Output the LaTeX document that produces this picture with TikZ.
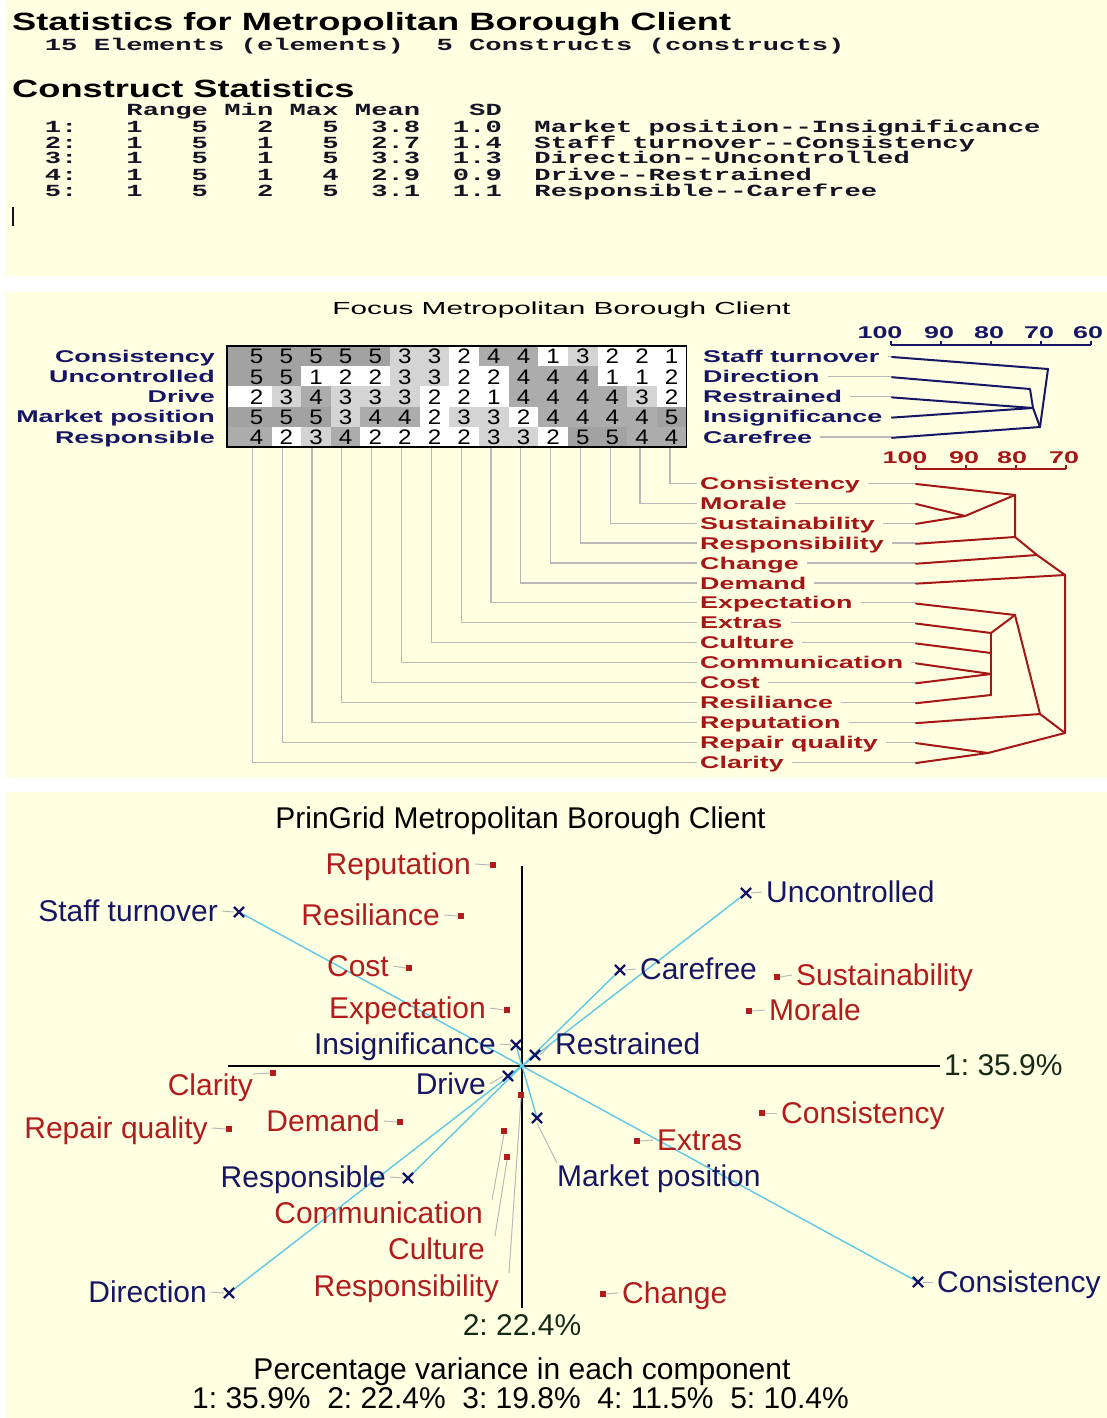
\documentclass[tikz,border=0pt]{standalone}
\usepackage{graphicx}
\usepackage{fontspec}
\setmainfont{Liberation Sans}
\newfontfamily\monofam{Liberation Mono}
\usetikzlibrary{shapes.misc}

\definecolor{paper}{RGB}{255,255,226}
\definecolor{navy}{RGB}{22,22,100}
\definecolor{dred}{RGB}{165,22,22}
\definecolor{pred}{RGB}{178,28,28}
\definecolor{cyanln}{RGB}{95,200,230}
\definecolor{leadgrey}{RGB}{185,185,185}
\definecolor{axtext}{RGB}{22,42,22}
\definecolor{inktext}{RGB}{20,20,36}
\definecolor{cell1}{RGB}{255,255,255}
\definecolor{cell2}{RGB}{255,255,255}
\definecolor{cell3}{RGB}{212,212,212}
\definecolor{cell4}{RGB}{172,172,172}
\definecolor{cell5}{RGB}{162,162,162}

% horizontal stretch factors of the text groups
\newcommand\wideA[1]{\scalebox{1.45}[1]{#1}}
\newcommand\wideM[1]{\scalebox{1.6}[1]{#1}}
\newcommand\wideL[1]{\scalebox{1.58}[1]{#1}}
\newcommand\wideT[1]{\scalebox{1.7}[1]{#1}}
\newcommand\wideD[1]{\scalebox{1.15}[1]{#1}}
\newcommand\dd{-\kern0pt-}

\begin{document}
\begin{tikzpicture}[x=1pt,y=-1pt,
  head/.style={inner sep=0, anchor=base west, text=black,
    font=\fontsize{25}{30}\selectfont\bfseries},
  mono/.style={inner sep=0, anchor=base west, text=inktext,
    font=\monofam\bfseries\fontsize{17}{20}\selectfont\frenchspacing},
  lab2/.style={inner sep=0, text height=12.2pt, text depth=0pt,
    font=\fontsize{17}{20}\selectfont\bfseries},
  ttl2/.style={inner sep=0, text height=12.5pt, text depth=0pt, text=black,
    font=\fontsize{17.5}{20}\selectfont},
  dig/.style={inner sep=0, text height=15pt, text depth=0pt, text=black,
    font=\fontsize{21}{24}\selectfont},
  lab3/.style={inner sep=0, text height=21.5pt, text depth=0pt,
    font=\fontsize{30}{36}\selectfont\frenchspacing},
  gridln/.style={draw=leadgrey, line width=1.2pt},
  cden/.style={draw=navy, line width=2pt, line join=round, line cap=round},
  eden/.style={draw=dred, line width=2pt, line join=round, line cap=round},
  axis/.style={draw=black, line width=1.8pt},
  pole/.style={draw=cyanln, line width=1.4pt},
  leader/.style={draw=leadgrey, line width=1pt},
  xmk/.style={draw=navy, cross out, minimum size=8pt, inner sep=0pt, line width=2.2pt},
  emk/.style={fill=pred, minimum size=5.5pt, inner sep=0pt},
]
\useasboundingbox (0,0) rectangle (1107,1418);
\fill[white] (0,0) rectangle (1107,1418);
\fill[paper] (5,0) rectangle (1107,276);
\fill[paper] (5,292) rectangle (1107,778);
\fill[paper] (5,792) rectangle (1107,1418);

% ---------------- statistics listing ----------------
\node[head] (sthead) at (12,31) {\wideA{Statistics for Metropolitan Borough Client}};
\node[mono] (stcount) at (12,51) {\wideM{~~15 Elements (elements)~~5 Constructs (constructs)}};
\node[head] (cshead) at (12,98) {\wideA{Construct Statistics}};
\node[mono] (cscols) at (12,116) {\wideM{~~~~~~~Range Min Max Mean~~~SD}};
\node[mono] (csr1) at (12,132) {\wideM{~~1:~~~1~~~5~~~2~~~5~~3.8~~1.0~~Market position\dd Insignificance}};
\node[mono] (csr2) at (12,148) {\wideM{~~2:~~~1~~~5~~~1~~~5~~2.7~~1.4~~Staff turnover\dd Consistency}};
\node[mono] (csr3) at (12,164) {\wideM{~~3:~~~1~~~5~~~1~~~5~~3.3~~1.3~~Direction\dd Uncontrolled}};
\node[mono] (csr4) at (12,180) {\wideM{~~4:~~~1~~~5~~~1~~~4~~2.9~~0.9~~Drive\dd Restrained}};
\node[mono] (csr5) at (12,196) {\wideM{~~5:~~~1~~~5~~~2~~~5~~3.1~~1.1~~Responsible\dd Carefree}};
\draw[inktext, line width=1.2pt] (13,207) -- (13,226);

% ---------------- focus grid ----------------
\node[ttl2] (ftitle) at (561.5,308) {\wideT{Focus Metropolitan Borough Client}};

\foreach \vals [count=\r] in {
  {5,5,5,5,5,3,3,2,4,4,1,3,2,2,1},
  {5,5,1,2,2,3,3,2,2,4,4,4,1,1,2},
  {2,3,4,3,3,3,2,2,1,4,4,4,4,3,2},
  {5,5,5,3,4,4,2,3,3,2,4,4,4,4,5},
  {4,2,3,4,2,2,2,2,3,3,2,5,5,4,4}}{
  \foreach \v [count=\c] in \vals {
    \pgfmathsetmacro\xl{\c==1 ? 227 : 241.9+29.64*(\c-1)}
    \fill[cell\v] (\xl,{346+20.2*(\r-1)}) rectangle ({241.9+29.64*\c},{346+20.2*\r});
    \node[dig] (g\r-\c) at ({256.7+29.64*(\c-1)},{356.3+20.2*(\r-1)}) {\wideD{\v}};
  }
}
\draw[black, line width=1.5pt] (227,346) rectangle (686.5,447);

\foreach \t [count=\r] in {Consistency,Uncontrolled,Drive,Market position,Responsible}
  \node[lab2, text=navy, anchor=east] (rl\r) at (215,{356.1+20.2*(\r-1)}) {\wideL{\t}};
\foreach \t [count=\r] in {Staff turnover,Direction,Restrained,Insignificance,Carefree}{
  \node[lab2, text=navy, anchor=west] (rr\r) at (703,{356.1+20.2*(\r-1)}) {\wideL{\t}};
  \coordinate (cr\r) at (892,{357+20.2*(\r-1)});
  \draw[gridln] ([xshift=8pt]rr\r.east) -- (rr\r.east -| cr\r);
}

% construct tree
\coordinate (sx) at (1048,369);
\coordinate (dx) at (1030,389);
\coordinate (m1) at (1033,408);
\coordinate (cx) at (1040,427);
\draw[cden] (cr1) -- (sx) -- (cx);
\draw[cden] (cr2) -- (dx) -- (m1) -- (cx);
\draw[cden] (cr3) -- (m1);
\draw[cden] (cr4) -- (m1);
\draw[cden] (cr5) -- (cx);
\draw[navy, line width=1.6pt] (891,345) -- (1091,345);
\foreach \k in {0,...,4} \draw[navy, line width=1.6pt] ({891+50*\k},345) -- ({891+50*\k},340.5);
\foreach \v/\x in {100/880,90/939,80/989,70/1039,60/1088}
  \node[lab2, text=navy, anchor=base] (cs\v) at (\x,338.5) {\wideL{\v}};

% element labels, grid leaders and element tree
\foreach \t [count=\j] in {Consistency,Morale,Sustainability,Responsibility,Change,Demand,Expectation,Extras,Culture,Communication,Cost,Resiliance,Reputation,Repair quality,Clarity}{
  \node[lab2, text=dred, anchor=west] (el\j) at (700,{483.3+19.93*(\j-1)}) {\wideL{\t}};
  \coordinate (lf\j) at (916,{484+19.93*(\j-1)});
  \coordinate (cb\j) at ({252.3+29.83*(15-\j)},447.8);
  \draw[gridln] (cb\j) |- ([xshift=-3pt]el\j.west);
  \draw[gridln] ([xshift=8pt]el\j.east) -- (el\j.east -| lf\j);
}
\coordinate (n1) at (1015,495);
\coordinate (n2) at (965,516);
\coordinate (n3) at (1015,537);
\coordinate (n4) at (1037,555);
\coordinate (n5) at (1065,575);
\coordinate (n6) at (1065,733);
\coordinate (n7) at (1015,615);
\coordinate (n8) at (991,633);
\coordinate (n8b) at (991,653);
\coordinate (n9) at (991,674);
\coordinate (n10) at (991,695);
\coordinate (n11) at (1040,714);
\coordinate (n12) at (988,753);
\draw[eden] (lf1) -- (n1) -- (n3) -- (n4) -- (n5) -- (n6);
\draw[eden] (lf2) -- (n2) -- (lf3);
\draw[eden] (n2) -- (n1);
\draw[eden] (lf4) -- (n3);
\draw[eden] (lf5) -- (n4);
\draw[eden] (lf6) -- (n5);
\draw[eden] (lf7) -- (n7) -- (n11) -- (n6);
\draw[eden] (lf8) -- (n8) -- (n7);
\draw[eden] (n8) -- (n10);
\draw[eden] (lf9) -- (n8b);
\draw[eden] (lf10) -- (n9) -- (lf11);
\draw[eden] (lf12) -- (n10);
\draw[eden] (lf13) -- (n11);
\draw[eden] (lf14) -- (n12) -- (lf15);
\draw[eden] (n12) -- (n6);
\draw[dred, line width=1.6pt] (916,469) -- (1066,469);
\foreach \k in {0,...,3} \draw[dred, line width=1.6pt] ({916+50*\k},469) -- ({916+50*\k},464.5);
\foreach \v/\x in {100/905,90/964,80/1012,70/1064}
  \node[lab2, text=dred, anchor=base] (es\v) at (\x,463) {\wideL{\v}};

% ---------------- principal components plot ----------------
\node[lab3, text=black] (ptitle) at (520.5,818) {PrinGrid Metropolitan Borough Client};

\coordinate (O) at (522,1066);
\coordinate (axL) at (228,1066);
\coordinate (axT) at (522,866);
\node[lab3, text=axtext, anchor=west] (ax1) at (944,1065) {1: 35.9\%};
\node[lab3, text=axtext] (ax2) at (522,1325) {2: 22.4\%};
\draw[axis] (axL) -- ([xshift=-4pt]ax1.west |- O);
\draw[axis] (axT) -- ([yshift=6pt]ax2.north);

% construct poles
\coordinate (pST) at (239,912);
\coordinate (pUN) at (746,893);
\coordinate (pCF) at (620,970);
\coordinate (pRS) at (535,1055);
\coordinate (pIN) at (516,1045);
\coordinate (pDV) at (508,1076);
\coordinate (pMP) at (537,1118);
\coordinate (pRB) at (408,1178);
\coordinate (pDI) at (229,1293);
\coordinate (pCO) at (918,1282);
\draw[pole] (pST) -- (O) -- (pCO);
\draw[pole] (pDI) -- (O) -- (pUN);
\draw[pole] (pRB) -- (O) -- (pCF);
\draw[pole] (pDV) -- (O) -- (pRS);
\draw[pole] (pIN) -- (O) -- (pMP);

% element points
\coordinate (eRep) at (493,865);
\coordinate (eRsl) at (461,916);
\coordinate (eCst) at (409,968);
\coordinate (eExp) at (507,1010);
\coordinate (eSus) at (777,977);
\coordinate (eMor) at (749,1011);
\coordinate (eCla) at (273,1073);
\coordinate (eDem) at (400,1122);
\coordinate (eRq) at (229,1129);
\coordinate (eCon) at (762,1113);
\coordinate (eExt) at (637,1141);
\coordinate (eChg) at (603,1294);
\coordinate (eCom) at (504,1131);
\coordinate (eCul) at (507,1157);
\coordinate (eRsp) at (521,1095);

% labels standing left of their point
\foreach \k/\t/\x/\y in {Rep/Reputation/471/864, Rsl/Resiliance/440/915, Cst/Cost/389/966,
    Exp/Expectation/486/1008, Dem/Demand/380/1121, Rq/Repair quality/208/1128}{
  \node[emk] (q\k) at (e\k) {};
  \node[lab3, text=pred, anchor=east] (l\k) at (\x,\y) {\t};
  \draw[leader] ([xshift=4pt]l\k.east) -- (q\k.west);
}
% labels standing right of their point
\foreach \k/\t/\x/\y in {Sus/Sustainability/796/975, Mor/Morale/769/1010, Con/Consistency/781/1113,
    Ext/Extras/657/1140, Chg/Change/622/1293}{
  \node[emk] (q\k) at (e\k) {};
  \node[lab3, text=pred, anchor=west] (l\k) at (\x,\y) {\t};
  \draw[leader] (q\k.east) -- ([xshift=-4pt]l\k.west);
}
% labels set apart from their point
\node[emk] (qCla) at (eCla) {};
\node[lab3, text=pred, anchor=east] (lCla) at (253,1085) {Clarity};
\draw[leader] (lCla.north east) -- (qCla.west);
\node[emk] (qCom) at (eCom) {};
\node[lab3, text=pred, anchor=east] (lCom) at (483,1213) {Communication};
\draw[leader] (qCom.south) -- ([xshift=9pt,yshift=2pt]lCom.north east);
\node[emk] (qCul) at (eCul) {};
\node[lab3, text=pred, anchor=east] (lCul) at (485,1249) {Culture};
\draw[leader] (qCul.south) -- ([xshift=10pt,yshift=2pt]lCul.north east);
\node[emk] (qRsp) at (eRsp) {};
\node[lab3, text=pred, anchor=east] (lRsp) at (499,1286) {Responsibility};
\draw[leader] (qRsp.south) -- ([xshift=10pt,yshift=2pt]lRsp.north east);

% construct markers and labels
\foreach \k/\t/\x/\y in {ST/Staff turnover/218/911, IN/Insignificance/496/1044, DV/Drive/486/1084,
    RB/Responsible/386/1177, DI/Direction/207/1292}{
  \node[xmk] (m\k) at (p\k) {};
  \node[lab3, text=navy, anchor=east] (c\k) at (\x,\y) {\t};
  \draw[leader] ([xshift=4pt]c\k.east) -- (m\k.west);
}
\foreach \k/\t/\x/\y in {UN/Uncontrolled/766/892, CF/Carefree/640/969, RS/Restrained/555/1044,
    CO/Consistency/937/1282}{
  \node[xmk] (m\k) at (p\k) {};
  \node[lab3, text=navy, anchor=west] (c\k) at (\x,\y) {\t};
  \draw[leader] (m\k.east) -- ([xshift=-4pt]c\k.west);
}
\node[xmk] (mMP) at (pMP) {};
\node[lab3, text=navy, anchor=west] (cMP) at (557,1176) {Market position};
\draw[leader] (mMP.south) -- ([yshift=2pt]cMP.north west);

\node[lab3, text=black] (pvar) at (522,1369) {Percentage variance in each component};
\node[lab3, text=black] (pvals) at (520.5,1398) {1: 35.9\%~~2: 22.4\%~~3: 19.8\%~~4: 11.5\%~~5: 10.4\%};
\end{tikzpicture}
\end{document}
